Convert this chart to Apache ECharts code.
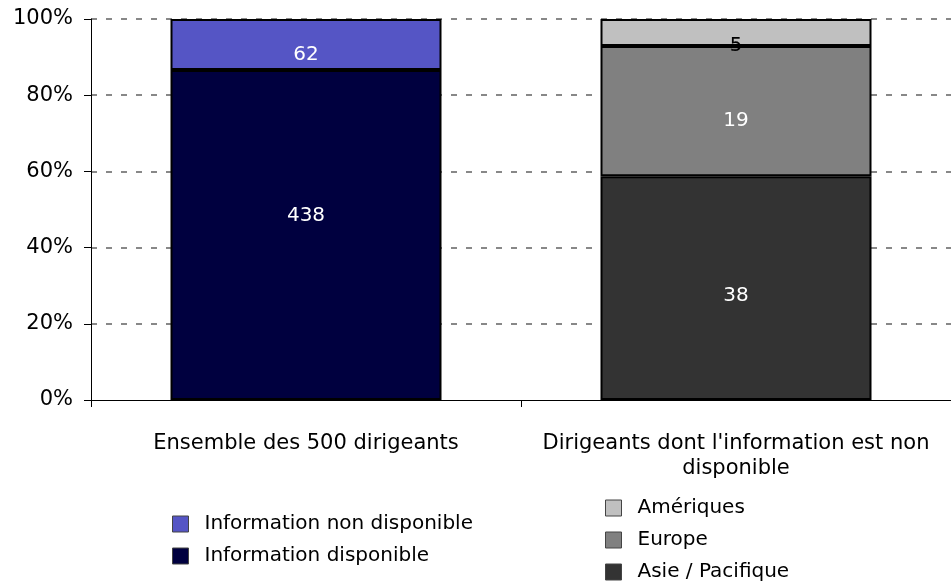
<!DOCTYPE html>
<html>
<head>
<meta charset="utf-8">
<script src="https://cdn.jsdelivr.net/npm/echarts@6/dist/echarts.min.js"></script>
<style>html,body{margin:0;padding:0;background:#fff}#c{width:951px;height:581px}</style>
</head>
<body>
<div id="c"></div>
<script>
// Categories
const categories = ["Ensemble des 500 dirigeants", "Dirigeants dont l'information est non\ndisponible"];
// Shares (% of bar height)
const shareDisponible = [86.6, null];
const shareNonDisponible = [13.4, null];
const shareAsie = [null, 58.7];
const shareEurope = [null, 34.2];
const shareAmeriques = [null, 7.1];
// Count labels shown inside segments
const countDisponible = [438, null];
const countNonDisponible = [62, null];
const countAsie = [null, 38];
const countEurope = [null, 19];
const countAmeriques = [null, 5];
// Y tick values
const yTicks = [0, 20, 40, 60, 80, 100];

const FONT = 'DejaVu Sans';

function mk(name, data, counts, color, labelColor, offsetY) {
  return {
    name: name,
    type: 'bar',
    stack: 'total',
    barWidth: 271,
    data: data.map(v => v == null ? '-' : v),
    itemStyle: { color: color, borderColor: '#000', borderWidth: 2 },
    label: {
      show: true,
      position: 'inside',
      offset: [0, offsetY],
      color: labelColor,
      fontFamily: FONT,
      fontSize: 20,
      formatter: p => counts[p.dataIndex] == null ? '' : String(counts[p.dataIndex])
    },
    emphasis: { disabled: true },
    animation: false
  };
}

function lg(name, left, top) {
  return {
    orient: 'vertical', left: left, top: top, padding: 0,
    itemWidth: 16, itemHeight: 16, icon: 'rect',
    data: [name],
    itemStyle: { borderColor: '#444', borderWidth: 1 },
    textStyle: { color: '#000', fontFamily: FONT, fontSize: 20, padding: [0, 0, 0, 11] },
    selectedMode: false
  };
}

const chart = echarts.init(document.getElementById('c'));
chart.setOption({
  animation: false,
  backgroundColor: '#fff',
  grid: { left: 91, top: 19, width: 862, height: 381, containLabel: false },
  xAxis: {
    type: 'category',
    data: categories,
    z: 5,
    axisLine: { show: true, lineStyle: { color: '#000', width: 1 } },
    axisTick: { show: true, length: 7, lineStyle: { color: '#000' } },
    axisLabel: { color: '#000', fontFamily: FONT, fontSize: 21, margin: 31, lineHeight: 25, interval: 0 },
    splitLine: { show: false }
  },
  yAxis: {
    type: 'value',
    min: yTicks[0],
    max: yTicks[yTicks.length - 1],
    interval: yTicks[1] - yTicks[0],
    axisLine: { show: true, lineStyle: { color: '#000', width: 1 } },
    axisTick: { show: true, length: 7, inside: false, lineStyle: { color: '#000' } },
    axisLabel: { color: '#000', fontFamily: FONT, fontSize: 21, margin: 18, formatter: '{value}%' },
    splitLine: { show: true, showMinLine: false, lineStyle: { color: '#888', width: 2, type: [6, 9] } }
  },
  legend: [
    lg('Information non disponible', 172, 514),
    lg('Information disponible', 172, 546),
    lg('Amériques', 605, 498),
    lg('Europe', 605, 530),
    lg('Asie / Pacifique', 605, 562)
  ],
  series: [
    mk('Information disponible', shareDisponible, countDisponible, '#00003f', '#fff', -19),
    mk('Information non disponible', shareNonDisponible, countNonDisponible, '#5555c5', '#fff', 10),
    mk('Asie / Pacifique', shareAsie, countAsie, '#333333', '#fff', 8),
    mk('Europe', shareEurope, countEurope, '#808080', '#fff', 10),
    mk('Amériques', shareAmeriques, countAmeriques, '#c0c0c0', '#000', 13)
  ]
});
</script>
</body>
</html>
